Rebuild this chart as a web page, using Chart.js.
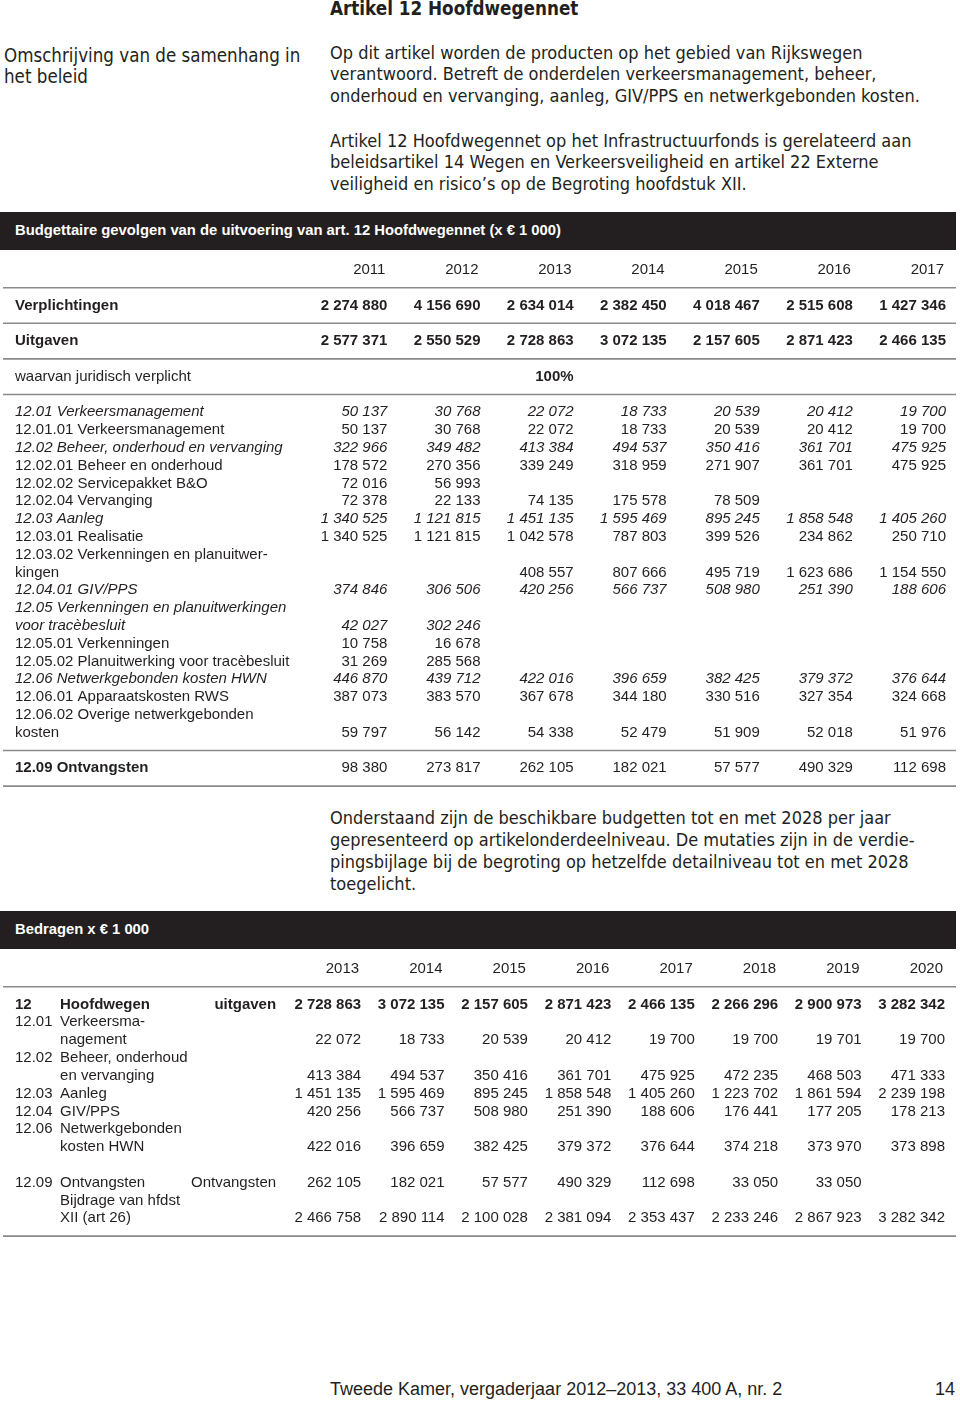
<!DOCTYPE html>
<html>
<head>
<meta charset="utf-8">
<script src="https://cdn.jsdelivr.net/npm/chart.js@4.4.1/dist/chart.umd.min.js"></script>
<style>
  body { margin: 0; background: #fff; }
  #page { position: relative; width: 960px; height: 1401px; overflow: hidden; color: #231f20;
    font-family: "DejaVu Sans Condensed", "Liberation Sans", sans-serif; }
  .t { position: absolute; white-space: nowrap; }
  .body { font-size: 18px; line-height: 21.3px; }
  .band { position: absolute; left: 0; width: 956px; background: #231f20; color: #fff;
    font-family: "Liberation Sans", Arial, sans-serif; font-weight: bold; font-size: 14.8px; }
  .band span { position: absolute; left: 15px; }
  canvas { position: absolute; left: 0; }
</style>
</head>
<body>
<div id="page">
  <div class="t" style="left:330px;top:-1px;font-size:18.7px;line-height:20px;font-weight:bold">Artikel 12 Hoofdwegennet</div>
  <div class="t body" style="left:4px;top:45px;font-size:18.6px">Omschrijving van de samenhang in<br>het beleid</div>
  <div class="t body" style="left:330px;top:42px">Op dit artikel worden de producten op het gebied van Rijkswegen<br>verantwoord. Betreft de onderdelen verkeersmanagement, beheer,<br>onderhoud en vervanging, aanleg, GIV/PPS en netwerkgebonden kosten.</div>
  <div class="t body" style="left:330px;top:130px">Artikel 12 Hoofdwegennet op het Infrastructuurfonds is gerelateerd aan<br>beleidsartikel 14 Wegen en Verkeersveiligheid en artikel 22 Externe<br>veiligheid en risico’s op de Begroting hoofdstuk XII.</div>
  <div class="band" style="top:212px;height:38px"><span style="top:10px">Budgettaire gevolgen van de uitvoering van art. 12 Hoofdwegennet (x € 1 000)</span></div>
  <canvas id="table1" width="960" height="534" style="top:261px;width:960px;height:534px"></canvas>
  <div class="t body" style="left:330px;top:807px;line-height:22px">Onderstaand zijn de beschikbare budgetten tot en met 2028 per jaar<br>gepresenteerd op artikelonderdeelniveau. De mutaties zijn in de verdie-<br>pingsbijlage bij de begroting op hetzelfde detailniveau tot en met 2028<br>toegelicht.</div>
  <div class="band" style="top:911px;height:38px"><span style="top:10px">Bedragen x € 1 000</span></div>
  <canvas id="table2" width="960" height="285" style="top:960px;width:960px;height:285px"></canvas>
  <div class="t" style="left:330px;top:1378px;font-family:'Liberation Sans',Arial,sans-serif;font-size:18px;line-height:22px">Tweede Kamer, vergaderjaar 2012–2013, 33 400 A, nr. 2</div>
  <div class="t" style="right:5px;top:1378px;font-family:'Liberation Sans',Arial,sans-serif;font-size:18px;line-height:22px">14</div>
</div>
<script>
const FONT = '"Liberation Sans", Arial, sans-serif';
const SIZE = 15;

// Tabel 1: budgettaire gevolgen 2011-2017
const years1 = ['2011', '2012', '2013', '2014', '2015', '2016', '2017'];
const verplichtingen = [2274880, 4156690, 2634014, 2382450, 4018467, 2515608, 1427346];
const uitgaven = [2577371, 2550529, 2728863, 3072135, 2157605, 2871423, 2466135];
const juridischVerplicht = [null, null, '100%', null, null, null, null];
const verkeersmanagement = [50137, 30768, 22072, 18733, 20539, 20412, 19700];
const verkeersmanagement01 = [50137, 30768, 22072, 18733, 20539, 20412, 19700];
const beheerOnderhoudVervanging = [322966, 349482, 413384, 494537, 350416, 361701, 475925];
const beheerOnderhoud = [178572, 270356, 339249, 318959, 271907, 361701, 475925];
const servicepakket = [72016, 56993, null, null, null, null, null];
const vervanging = [72378, 22133, 74135, 175578, 78509, null, null];
const aanleg = [1340525, 1121815, 1451135, 1595469, 895245, 1858548, 1405260];
const realisatie = [1340525, 1121815, 1042578, 787803, 399526, 234862, 250710];
const verkenningenPlan = [null, null, 408557, 807666, 495719, 1623686, 1154550];
const givPps = [374846, 306506, 420256, 566737, 508980, 251390, 188606];
const verkenningenTrace = [42027, 302246, null, null, null, null, null];
const verkenningen = [10758, 16678, null, null, null, null, null];
const planuitwerking = [31269, 285568, null, null, null, null, null];
const netwerkkosten = [446870, 439712, 422016, 396659, 382425, 379372, 376644];
const apparaatskosten = [387073, 383570, 367678, 344180, 330516, 327354, 324668];
const overigeKosten = [59797, 56142, 54338, 52479, 51909, 52018, 51976];
const ontvangsten1 = [98380, 273817, 262105, 182021, 57577, 490329, 112698];

// Tabel 2: bedragen 2013-2020
const years2 = ['2013', '2014', '2015', '2016', '2017', '2018', '2019', '2020'];
const hoofdwegen = [2728863, 3072135, 2157605, 2871423, 2466135, 2266296, 2900973, 3282342];
const b_verkeersmanagement = [22072, 18733, 20539, 20412, 19700, 19700, 19701, 19700];
const b_beheer = [413384, 494537, 350416, 361701, 475925, 472235, 468503, 471333];
const b_aanleg = [1451135, 1595469, 895245, 1858548, 1405260, 1223702, 1861594, 2239198];
const b_givPps = [420256, 566737, 508980, 251390, 188606, 176441, 177205, 178213];
const b_netwerk = [422016, 396659, 382425, 379372, 376644, 374218, 373970, 373898];
const b_ontvangsten = [262105, 182021, 57577, 490329, 112698, 33050, 33050, null];
const b_bijdrage = [2466758, 2890114, 2100028, 2381094, 2353437, 2233246, 2867923, 3282342];

const fmt = v => typeof v === 'number' ? String(v).replace(/\B(?=(\d{3})+(?!\d))/g, ' ') : v;

// rows: each entry is one text line of the table
const rows1 = [
  { head: years1 },
  { line: true },
  { label: 'Verplichtingen', style: 'bold', values: verplichtingen, vstyle: 'bold' },
  { line: true },
  { label: 'Uitgaven', style: 'bold', values: uitgaven, vstyle: 'bold' },
  { line: true },
  { label: 'waarvan juridisch verplicht', values: juridischVerplicht, vstyle: 'bold' },
  { line: true },
  { label: '12.01 Verkeersmanagement', style: 'italic', values: verkeersmanagement },
  { label: '12.01.01 Verkeersmanagement', values: verkeersmanagement01 },
  { label: '12.02 Beheer, onderhoud en vervanging', style: 'italic', values: beheerOnderhoudVervanging },
  { label: '12.02.01 Beheer en onderhoud', values: beheerOnderhoud },
  { label: '12.02.02 Servicepakket B&O', values: servicepakket },
  { label: '12.02.04 Vervanging', values: vervanging },
  { label: '12.03 Aanleg', style: 'italic', values: aanleg },
  { label: '12.03.01 Realisatie', values: realisatie },
  { label: '12.03.02 Verkenningen en planuitwer-' },
  { label: 'kingen', values: verkenningenPlan },
  { label: '12.04.01 GIV/PPS', style: 'italic', values: givPps },
  { label: '12.05 Verkenningen en planuitwerkingen', style: 'italic' },
  { label: 'voor tracèbesluit', style: 'italic', values: verkenningenTrace },
  { label: '12.05.01 Verkenningen', values: verkenningen },
  { label: '12.05.02 Planuitwerking voor tracèbesluit', values: planuitwerking },
  { label: '12.06 Netwerkgebonden kosten HWN', style: 'italic', values: netwerkkosten },
  { label: '12.06.01 Apparaatskosten RWS', values: apparaatskosten },
  { label: '12.06.02 Overige netwerkgebonden' },
  { label: 'kosten', values: overigeKosten },
  { line: true },
  { label: '12.09 Ontvangsten', style: 'bold', values: ontvangsten1 },
  { line: true }
];

const rows2 = [
  { head: years2 },
  { line: true },
  { code: '12', label: 'Hoofdwegen', extra: 'uitgaven', style: 'bold', values: hoofdwegen, vstyle: 'bold' },
  { code: '12.01', label: 'Verkeersma-' },
  { label: 'nagement', values: b_verkeersmanagement },
  { code: '12.02', label: 'Beheer, onderhoud' },
  { label: 'en vervanging', values: b_beheer },
  { code: '12.03', label: 'Aanleg', values: b_aanleg },
  { code: '12.04', label: 'GIV/PPS', values: b_givPps },
  { code: '12.06', label: 'Netwerkgebonden' },
  { label: 'kosten HWN', values: b_netwerk },
  {},
  { code: '12.09', label: 'Ontvangsten', extra: 'Ontvangsten', values: b_ontvangsten },
  { label: 'Bijdrage van hfdst' },
  { label: 'XII (art 26)', values: b_bijdrage },
  { line: true }
];

function datasetsFor(rows, years) {
  return years.map((yr, c) => ({
    label: yr,
    data: rows.flatMap((r, i) => r.values && r.values[c] != null ? [{ x: c, y: i, v: r.values[c] }] : []),
    pointRadius: 0,
    showLine: false
  }));
}

function font(style) {
  const s = style === 'bold' ? 'bold ' : style === 'italic' ? 'italic ' : '';
  return s + SIZE + 'px ' + FONT;
}

function tablePlugin(rows, cols) {
  return {
    id: 'tableText',
    afterDatasetsDraw(chart) {
      const { ctx, scales: { x, y } } = chart;
      ctx.save();
      ctx.fillStyle = '#231f20';
      ctx.textBaseline = 'middle';
      rows.forEach((r, i) => {
        const py = y.getPixelForValue(i);
        if (r.line) {
          ctx.strokeStyle = '#8a8a8a';
          ctx.lineWidth = 1.6;
          ctx.beginPath();
          ctx.moveTo(3, py);
          ctx.lineTo(956, py);
          ctx.stroke();
        }
        if (r.head) {
          ctx.font = font('');
          ctx.textAlign = 'right';
          r.head.forEach((h, c) => ctx.fillText(h, x.getPixelForValue(c) - 2, py));
        }
        ctx.font = font(r.style);
        if (r.code) {
          ctx.textAlign = 'left';
          ctx.fillText(r.code, x.getPixelForValue(cols.code), py);
        }
        if (r.label) {
          ctx.textAlign = 'left';
          ctx.fillText(r.label, x.getPixelForValue(cols.label), py);
        }
        if (r.extra) {
          ctx.textAlign = 'right';
          ctx.fillText(r.extra, x.getPixelForValue(cols.extra), py);
        }
      });
      // cell values from the datasets, placed by the library
      ctx.textAlign = 'right';
      chart.data.datasets.forEach((ds, d) => {
        const meta = chart.getDatasetMeta(d);
        meta.data.forEach((pt, j) => {
          const cell = ds.data[j];
          const r = rows[cell.y];
          const st = r.vstyle || (r.style === 'italic' ? 'italic' : '');
          ctx.font = font(st);
          ctx.fillText(fmt(cell.v), pt.x, pt.y);
        });
      });
      ctx.restore();
    }
  };
}

function makeTable(id, rows, years, xmin, cols, pad) {
  new Chart(document.getElementById(id), {
    type: 'scatter',
    data: { datasets: datasetsFor(rows, years) },
    options: {
      responsive: false,
      animation: false,
      layout: { padding: pad },
      plugins: { legend: { display: false }, tooltip: { enabled: false } },
      scales: {
        x: { type: 'linear', display: false, min: xmin, max: years.length - 1 },
        y: { type: 'linear', display: false, reverse: true, min: -0.5, max: rows.length - 0.5 }
      }
    },
    plugins: [tablePlugin(rows, cols)]
  });
}

makeTable('table1', rows1, years1, -4, { label: -4 }, { left: 15, right: 14, top: 0, bottom: 0 });
makeTable('table2', rows2, years2, -4.15, { code: -4.15, label: -3.61, extra: -1.02 }, { left: 15, right: 15, top: 0, bottom: 0 });
</script>
</body>
</html>
